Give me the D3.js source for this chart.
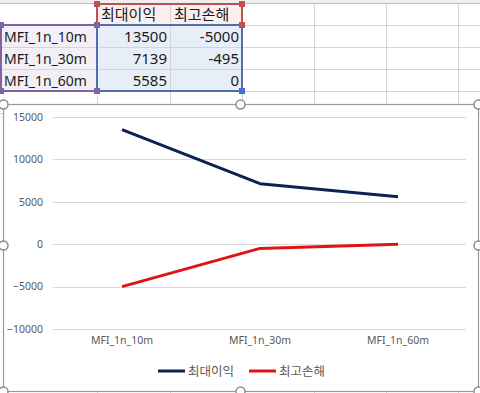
<!DOCTYPE html>
<html><head><meta charset="utf-8">
<script src="https://cdnjs.cloudflare.com/ajax/libs/d3/7.8.5/d3.min.js"></script>
<style>html,body{margin:0;padding:0;background:#fff;overflow:hidden}svg{display:block}</style>
</head><body>
<svg id="c" width="480" height="393"></svg>
<script>
const categories = ["MFI_1n_10m", "MFI_1n_30m", "MFI_1n_60m"];
const seriesNames = ["최대이익", "최고손해"];
const maxProfit = [13500, 7139, 5585];
const maxLoss = [-5000, -495, 0];
const yTicks = [-10000, -5000, 0, 5000, 10000, 15000];
const colors = ["#0c2254", "#e01414"];

const svg = d3.select("#c");
const KR = "'Noto Sans CJK KR','Noto Sans',sans-serif";
const LAT = "'Noto Sans','Noto Sans CJK KR',sans-serif";

// ---------- spreadsheet ----------
const colX = [0, 97, 170, 242, 314, 386, 458, 480];
const rowY = [3, 25, 47, 69, 91, 113];
svg.append("rect").attr("x",0).attr("y",0).attr("width",480).attr("height",3).attr("fill","#efefef");
svg.append("rect").attr("x",97).attr("y",3).attr("width",145).attr("height",22).attr("fill","#fbeeee");
svg.append("rect").attr("x",0).attr("y",25).attr("width",97).attr("height",66).attr("fill","#f3eff6");
svg.append("rect").attr("x",97).attr("y",25).attr("width",145).attr("height",66).attr("fill","#e7eef8");
const grid = svg.append("g").attr("stroke","#d4d4d4").attr("stroke-width",1);
colX.slice(1,-1).forEach(x => grid.append("line").attr("x1",x+0.5).attr("x2",x+0.5).attr("y1",3).attr("y2",393));
rowY.forEach(y => grid.append("line").attr("x1",0).attr("x2",480).attr("y1",y+0.5).attr("y2",y+0.5));
svg.append("line").attr("x1",0).attr("x2",480).attr("y1",3.5).attr("y2",3.5).attr("stroke","#bdbdbd");

const tbl = svg.append("g").attr("font-family", KR).attr("font-size", 15).attr("fill", "#1a1a1a");
seriesNames.forEach((s,i) => tbl.append("text").attr("x", colX[i+1]+4).attr("y", 20).text(s));
categories.forEach((c,i) => {
  const y = rowY[i+1] + 17;
  tbl.append("text").attr("x", 4).attr("y", y).attr("font-family", LAT).attr("font-size", 14).text(c);
  tbl.append("text").attr("x", colX[2]-3).attr("y", y).attr("text-anchor","end").attr("font-family", LAT).text(maxProfit[i]);
  tbl.append("text").attr("x", colX[3]-3).attr("y", y).attr("text-anchor","end").attr("font-family", LAT).text(maxLoss[i]);
});
function rangeBox(x0,y0,x1,y1,col){
  svg.append("rect").attr("x",x0).attr("y",y0).attr("width",x1-x0).attr("height",y1-y0)
    .attr("fill","none").attr("stroke",col).attr("stroke-width",2);
}
function sq(x,y,col){ svg.append("rect").attr("x",x-3).attr("y",y-3).attr("width",6).attr("height",6).attr("fill",col); }
rangeBox(97,4,242,25,"#c0504d");
rangeBox(1,25,97,91,"#8064a2");
rangeBox(97,25,242,91,"#4f6fa8");
sq(97,4,"#c0504d"); sq(242,4,"#c0504d"); sq(242,25,"#c0504d");
sq(1,25,"#8064a2"); sq(97,25,"#8064a2"); sq(1,91,"#8064a2"); sq(97,91,"#8064a2");
sq(242,91,"#4472c4");

// ---------- chart ----------
const fx0 = 3, fx1 = 478, fy0 = 104, fy1 = 391;
svg.append("rect").attr("x",fx0+0.5).attr("y",fy0+0.5).attr("width",fx1-fx0).attr("height",fy1-fy0)
  .attr("fill","#fff").attr("stroke","#9a9a9a").attr("stroke-width",1.2);

const x = d3.scaleBand().domain(categories).range([53, 467]).padding(0);
const y = d3.scaleLinear().domain([-10000, 15000]).range([329, 117]);
const cx = c => x(c) + x.bandwidth()/2;

svg.append("g").selectAll("line").data(yTicks).join("line")
  .attr("x1", 53).attr("x2", 466).attr("y1", d => Math.round(y(d))+0.5).attr("y2", d => Math.round(y(d))+0.5)
  .attr("stroke", "#d9d9d9").attr("stroke-width", 1);

const yAxis = d3.axisLeft(y).tickValues(yTicks).tickSize(0).tickPadding(0).tickFormat(d3.format("d"));
const ya = svg.append("g").attr("transform","translate(43,0)").call(yAxis);
ya.select(".domain").remove();
ya.selectAll("text").attr("font-family", LAT).attr("font-size", 10.5).attr("fill", "#595959");

const xAxis = d3.axisBottom(x).tickSize(0).tickPadding(0);
const xa = svg.append("g").attr("transform","translate(0,337)").call(xAxis);
xa.select(".domain").remove();
xa.selectAll("text").attr("font-family", LAT).attr("font-size", 10.5).attr("fill", "#595959");

const line = d3.line().x((d,i) => cx(categories[i])).y(d => y(d));
[maxProfit, maxLoss].forEach((s,k) => {
  svg.append("path").datum(s).attr("d", line).attr("fill","none")
    .attr("stroke", colors[k]).attr("stroke-width", 3).attr("stroke-linejoin","round");
});

const leg = [{x:158, name:seriesNames[0], c:colors[0]}, {x:249, name:seriesNames[1], c:colors[1]}];
leg.forEach(l => {
  svg.append("line").attr("x1", l.x).attr("x2", l.x+27).attr("y1", 371).attr("y2", 371)
    .attr("stroke", l.c).attr("stroke-width", 3);
  svg.append("text").attr("x", l.x+30).attr("y", 375.5).attr("font-family", KR).attr("font-size", 12.5)
    .attr("fill", "#595959").text(l.name);
});

[[fx0,fy0],[240,fy0],[fx1,fy0],[fx0,245],[fx1,245],[fx0,fy1],[240,fy1],[fx1,fy1]].forEach(p => {
  svg.append("circle").attr("cx",p[0]+0.5).attr("cy",p[1]+0.5).attr("r",4.5)
    .attr("fill","#fff").attr("stroke","#8c8c8c").attr("stroke-width",1.5);
});
</script>
</body></html>
